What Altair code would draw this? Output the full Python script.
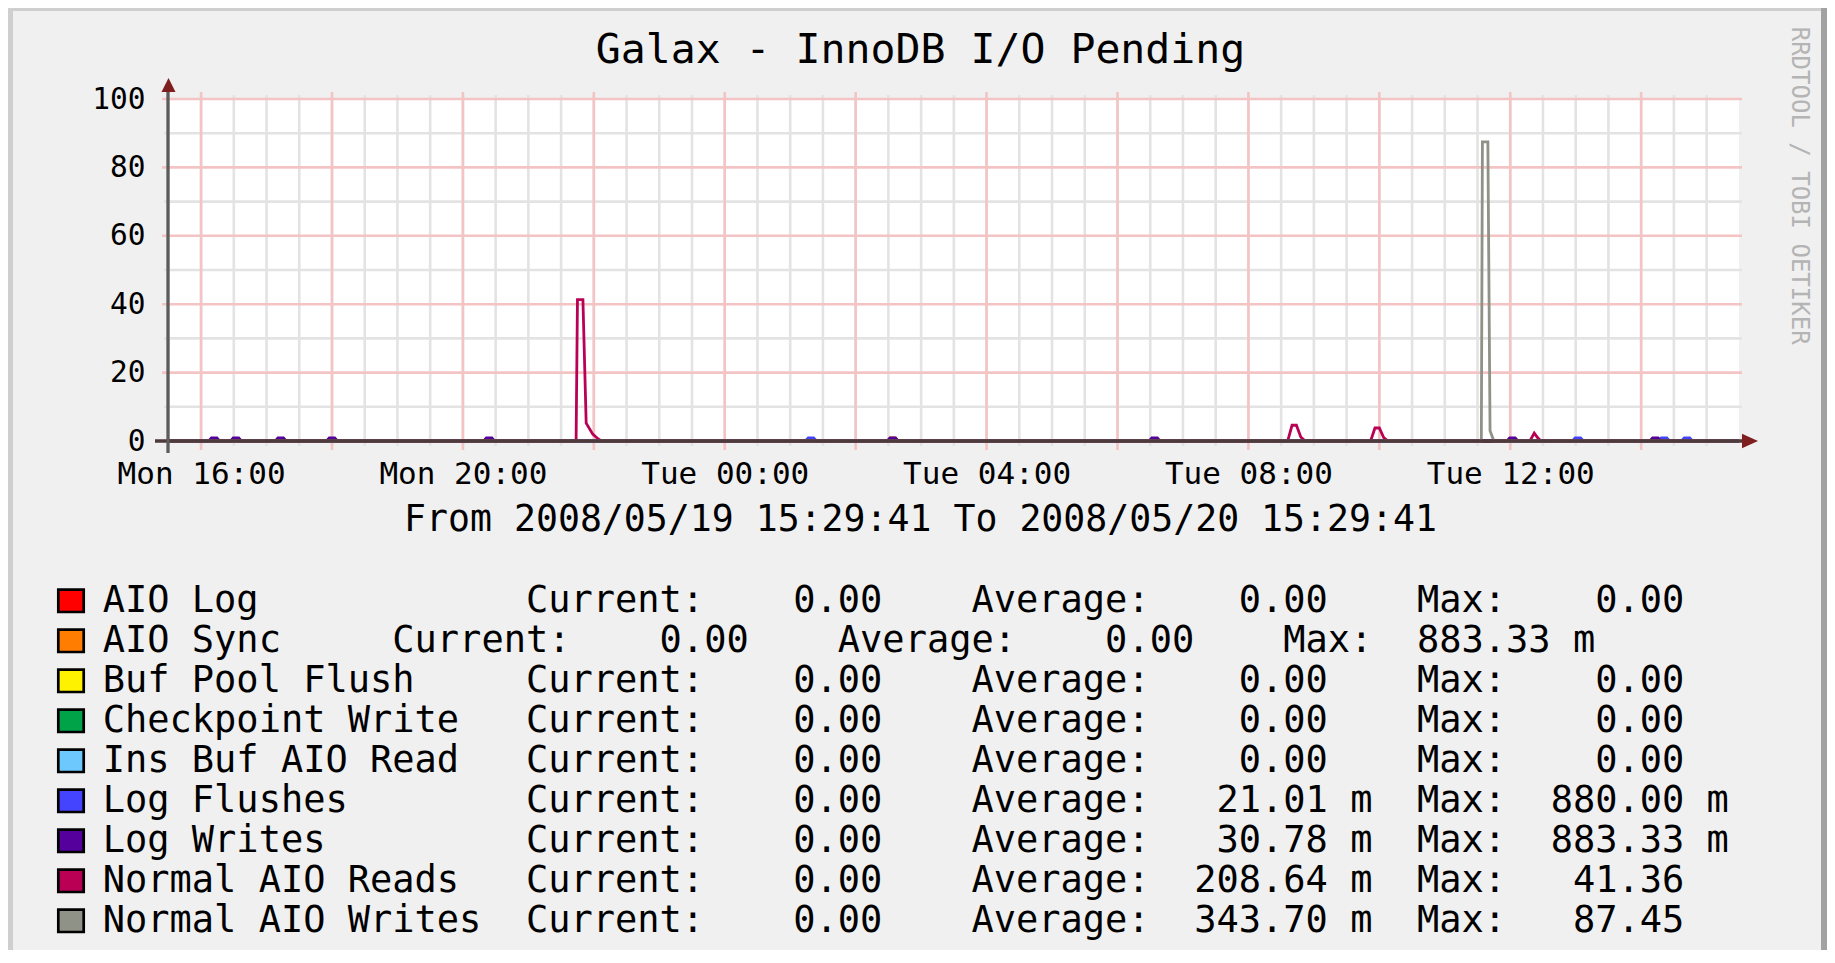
import altair as alt
import pandas as pd

FONT = "DejaVu Sans Mono"

TITLE = "Galax - InnoDB I/O Pending"
SUBTITLE = "From 2008/05/19 15:29:41 To 2008/05/20 15:29:41"
WATERMARK = "RRDTOOL / TOBI OETIKER"

# ---- legend / series info ----
SERIES = ["AIO Log", "AIO Sync", "Buf Pool Flush", "Checkpoint Write", "Ins Buf AIO Read",
          "Log Flushes", "Log Writes", "Normal AIO Reads", "Normal AIO Writes"]
COLORS = ["#FF0000", "#FF7D00", "#FFF200", "#00A348", "#6DC8FE",
          "#4444FF", "#55009D", "#B90054", "#8F9286"]
LABEL_WIDTH = [19, 13, 19, 19, 19, 19, 19, 19, 19]
CUR_VAL = [0, 0, 0, 0, 0, 0, 0, 0, 0]
CUR_UNIT = ["", "", "", "", "", "", "", "", ""]
AVG_VAL = [0, 0, 0, 0, 0, 21.01, 30.78, 208.64, 343.70]
AVG_UNIT = ["", "", "", "", "", "m", "m", "m", "m"]
MAX_VAL = [0, 883.33, 0, 0, 0, 880.00, 883.33, 41.36, 87.45]
MAX_UNIT = ["", "m", "", "", "", "m", "m", "", ""]

# ---- time series ----
T_START = "2008-05-19T15:29:41"
T_END = "2008-05-20T15:29:41"

AIO_LOG_T = [T_START, T_END]
AIO_LOG_V = [0, 0]

AIO_SYNC_T = [T_START, "2008-05-20T02:29:00", "2008-05-20T02:31:30", "2008-05-20T02:36:30",
              "2008-05-20T02:39:00", T_END]
AIO_SYNC_V = [0, 0, 0.883, 0.883, 0, 0]

BUF_POOL_T = [T_START, T_END]
BUF_POOL_V = [0, 0]

CHECKPOINT_T = [T_START, T_END]
CHECKPOINT_V = [0, 0]

INS_BUF_T = [T_START, T_END]
INS_BUF_V = [0, 0]

LOG_FLUSH_T = [T_START,
               "2008-05-20T01:14:00", "2008-05-20T01:16:30", "2008-05-20T01:21:30", "2008-05-20T01:24:00",
               "2008-05-20T12:57:00", "2008-05-20T12:59:30", "2008-05-20T13:04:30", "2008-05-20T13:07:00",
               "2008-05-20T14:16:00", "2008-05-20T14:18:30", "2008-05-20T14:23:30", "2008-05-20T14:26:00",
               "2008-05-20T14:37:00", "2008-05-20T14:39:30", "2008-05-20T14:44:30", "2008-05-20T14:47:00",
               T_END]
LOG_FLUSH_V = [0,
               0, 0.88, 0.88, 0,
               0, 0.88, 0.88, 0,
               0, 0.88, 0.88, 0,
               0, 0.88, 0.88, 0,
               0]

LOG_WRITES_T = [T_START,
                "2008-05-19T16:07:00", "2008-05-19T16:09:30", "2008-05-19T16:14:30", "2008-05-19T16:17:00",
                "2008-05-19T16:27:00", "2008-05-19T16:29:30", "2008-05-19T16:34:30", "2008-05-19T16:37:00",
                "2008-05-19T17:08:00", "2008-05-19T17:10:30", "2008-05-19T17:15:30", "2008-05-19T17:18:00",
                "2008-05-19T17:55:00", "2008-05-19T17:57:30", "2008-05-19T18:02:30", "2008-05-19T18:05:00",
                "2008-05-19T20:19:00", "2008-05-19T20:21:30", "2008-05-19T20:26:30", "2008-05-19T20:29:00",
                "2008-05-20T02:29:00", "2008-05-20T02:31:30", "2008-05-20T02:36:30", "2008-05-20T02:39:00",
                "2008-05-20T06:29:00", "2008-05-20T06:31:30", "2008-05-20T06:36:30", "2008-05-20T06:39:00",
                "2008-05-20T11:57:00", "2008-05-20T11:59:30", "2008-05-20T12:04:30", "2008-05-20T12:07:00",
                "2008-05-20T14:08:00", "2008-05-20T14:10:30", "2008-05-20T14:15:30", "2008-05-20T14:18:00",
                T_END]
LOG_WRITES_V = [0,
                0, 0.88, 0.88, 0,
                0, 0.88, 0.88, 0,
                0, 0.88, 0.88, 0,
                0, 0.88, 0.88, 0,
                0, 0.88, 0.88, 0,
                0, 0.883, 0.883, 0,
                0, 0.88, 0.88, 0,
                0, 0.88, 0.88, 0,
                0, 0.88, 0.88, 0,
                0]

READS_T = [T_START,
           "2008-05-19T21:43:45", "2008-05-19T21:45:00", "2008-05-19T21:50:00", "2008-05-19T21:53:00",
           "2008-05-19T21:59:00", "2008-05-19T22:04:00", "2008-05-19T22:07:00",
           "2008-05-20T08:36:00", "2008-05-20T08:40:00", "2008-05-20T08:44:00", "2008-05-20T08:48:00",
           "2008-05-20T08:52:00",
           "2008-05-20T09:52:00", "2008-05-20T09:56:00", "2008-05-20T10:00:00", "2008-05-20T10:04:00",
           "2008-05-20T10:08:00",
           "2008-05-20T12:18:00", "2008-05-20T12:22:00", "2008-05-20T12:25:00", "2008-05-20T12:28:00",
           T_END]
READS_V = [0,
           0, 41.36, 41.36, 5.2,
           2.0, 0.6, 0,
           0, 4.6, 4.6, 1.2,
           0,
           0, 3.8, 3.8, 1.0,
           0,
           0, 2.3, 1.0, 0,
           0]

WRITES_T = [T_START,
            "2008-05-20T11:33:30", "2008-05-20T11:34:30", "2008-05-20T11:39:30", "2008-05-20T11:41:30",
            "2008-05-20T11:45:00",
            T_END]
WRITES_V = [0,
            0, 87.45, 87.45, 3.0,
            0,
            0]

SERIES_T = [AIO_LOG_T, AIO_SYNC_T, BUF_POOL_T, CHECKPOINT_T, INS_BUF_T,
            LOG_FLUSH_T, LOG_WRITES_T, READS_T, WRITES_T]
SERIES_V = [AIO_LOG_V, AIO_SYNC_V, BUF_POOL_V, CHECKPOINT_V, INS_BUF_V,
            LOG_FLUSH_V, LOG_WRITES_V, READS_V, WRITES_V]

# ---- axis ticks / grid ----
Y_TICKS = [0, 20, 40, 60, 80, 100]
Y_MINOR = [10, 30, 50, 70, 90]
X_LABEL_HOURS = [(19, 16), (19, 20), (20, 0), (20, 4), (20, 8), (20, 12)]
MINOR_TIMES = pd.date_range("2008-05-19 15:30", "2008-05-20 15:00", freq="30min").strftime("%Y-%m-%dT%H:%M:%S").tolist()
MAJOR_TIMES = pd.date_range("2008-05-19 16:00", "2008-05-20 14:00", freq="2h").strftime("%Y-%m-%dT%H:%M:%S").tolist()

# ---- styling ----
W, H = 1571, 342
BG = "#f0f0f0"
MINOR_C = "#e3e3e3"
MAJOR_C = "#f4c4c4"
XAXIS_C = "#4d3a3a"
YAXIS_C = "#5c5c5c"
ARROW_C = "#7f1e1e"
ONE = pd.DataFrame({"k": [0]})

xscale = alt.Scale(domain=[alt.DateTime(year=2008, month=5, date=19, hours=15, minutes=29, seconds=41),
                           alt.DateTime(year=2008, month=5, date=20, hours=15, minutes=29, seconds=41)])
yscale = alt.Scale(domain=[0, 100], nice=False)

x_axis = alt.Axis(values=[alt.DateTime(year=2008, month=5, date=d, hours=h) for d, h in X_LABEL_HOURS],
                  format="%a %H:%M", labelFont=FONT, labelFontSize=31, labelColor="black",
                  labelPadding=42, labelBaseline="alphabetic", ticks=False, tickSize=0,
                  domain=False, grid=False, title=None, labelFlush=False, labelOverlap=False)
y_axis = alt.Axis(values=Y_TICKS, labelFont=FONT, labelFontSize=29.5, labelColor="black",
                  labelPadding=23, ticks=False, tickSize=0, domain=False, grid=False, title=None)


def deco_rect(x, x2, y, y2, fill, stroke=None, sw=0):
    kw = dict(fill=fill)
    if stroke:
        kw.update(stroke=stroke, strokeWidth=sw)
    return alt.Chart(ONE).mark_rect(**kw).encode(
        x=alt.value(x), x2=alt.value(x2), y=alt.value(y), y2=alt.value(y2))


def deco_text(s, x, y, size, color="black", align="left", angle=None, baseline="alphabetic"):
    kw = dict(font=FONT, fontSize=size, color=color, align=align, baseline=baseline)
    if angle is not None:
        kw["angle"] = angle
    return alt.Chart(ONE).mark_text(**kw).encode(x=alt.value(x), y=alt.value(y), text=alt.value(s))


layers = []

# grid
layers.append(alt.Chart(pd.DataFrame({"t": MINOR_TIMES})).mark_rule(color=MINOR_C, strokeWidth=2.6).encode(
    x=alt.X("t:T", scale=xscale, axis=x_axis), y=alt.value(-4), y2=alt.value(347)))
layers.append(alt.Chart(pd.DataFrame({"v": Y_MINOR})).mark_rule(color=MINOR_C, strokeWidth=2.6).encode(
    y=alt.Y("v:Q", scale=yscale, axis=y_axis), x=alt.value(-4), x2=alt.value(1574)))
layers.append(alt.Chart(pd.DataFrame({"t": MAJOR_TIMES})).mark_rule(color=MAJOR_C, strokeWidth=2.6).encode(
    x=alt.X("t:T", scale=xscale, axis=x_axis), y=alt.value(-7), y2=alt.value(351)))
layers.append(alt.Chart(pd.DataFrame({"v": Y_TICKS})).mark_rule(color=MAJOR_C, strokeWidth=2.6).encode(
    y=alt.Y("v:Q", scale=yscale, axis=y_axis), x=alt.value(-6), x2=alt.value(1574)))

# data lines
for t, v, col in zip(SERIES_T, SERIES_V, COLORS):
    df = pd.DataFrame({"t": t, "v": v})
    layers.append(alt.Chart(df).mark_line(color=col, strokeWidth=2.8, interpolate="linear").encode(
        x=alt.X("t:T", scale=xscale, axis=x_axis),
        y=alt.Y("v:Q", scale=yscale, axis=y_axis)))

# axes lines and arrows
layers.append(alt.Chart(ONE).mark_rule(color=XAXIS_C, strokeWidth=3.6).encode(
    x=alt.value(-13), x2=alt.value(1576), y=alt.value(H)))
layers.append(alt.Chart(ONE).mark_rule(color=YAXIS_C, strokeWidth=3.3).encode(
    x=alt.value(0), y=alt.value(-7), y2=alt.value(354)))
layers.append(alt.Chart(ONE).mark_point(shape="M-1,-0.9L1,0L-1,0.9Z", size=256, filled=True,
                                        color=ARROW_C, opacity=1).encode(x=alt.value(1582), y=alt.value(H)))
layers.append(alt.Chart(ONE).mark_point(shape="M-1,1L0,-1L1,1Z", size=196, filled=True,
                                        color=ARROW_C, opacity=1).encode(x=alt.value(0.5), y=alt.value(-14)))

# frame
layers.append(deco_rect(-160, 1659, -91, -88, "#cfcfcf"))
layers.append(deco_rect(-160, -155, -91, 851, "#cfcfcf"))
layers.append(deco_rect(1653, 1659, -91, 851, "#a2a2a2"))

# texts
layers.append(deco_text(TITLE, 752.5, -35.7, 41.5, align="center"))
layers.append(deco_text(SUBTITLE, 752.5, 431.7, 36.5, align="center"))
layers.append(deco_text(WATERMARK, 1630.5, -72.3, 24, color="#b4b4b4", angle=90, baseline="middle"))


def unit(u):
    return u if u else " "


for i in range(len(SERIES)):
    s = (SERIES[i].ljust(LABEL_WIDTH[i]) +
         "Current:" + f"{CUR_VAL[i]:8.2f}" + " " + unit(CUR_UNIT[i]) + "  " +
         "Average:" + f"{AVG_VAL[i]:8.2f}" + " " + unit(AVG_UNIT[i]) + "  " +
         "Max:" + f"{MAX_VAL[i]:8.2f}" + " " + MAX_UNIT[i])
    s = s.rstrip().replace(" ", "\u00a0")
    y0 = 490.7 + 40 * i
    layers.append(deco_rect(-109.7, -84.3, y0, y0 + 22.3, COLORS[i], stroke="black", sw=2.7))
    layers.append(deco_text(s, -65.3, 512.7 + 40 * i, 37))

chart = alt.layer(*layers).properties(
    width=W, height=H,
    padding={"left": 160, "top": 91, "right": 88, "bottom": 509},
    autosize=alt.AutoSizeParams(type="none"),
    background=BG,
).configure_view(fill="white", stroke=None)

chart.save("out.html", embed_options={"renderer": "svg", "actions": False})
